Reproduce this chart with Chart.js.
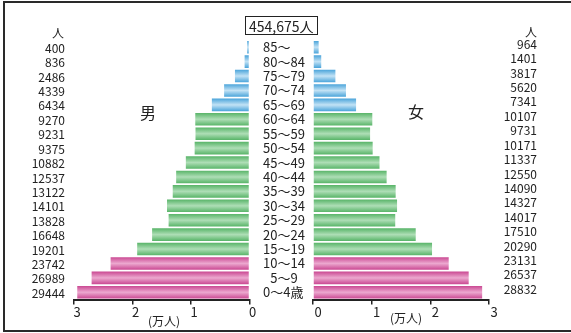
<!DOCTYPE html>
<html lang="ja">
<head>
<meta charset="utf-8">
<title>人口ピラミッド</title>
<script src="https://cdn.jsdelivr.net/npm/chart.js@4.4.1/dist/chart.umd.min.js"></script>
<style>
    html, body { margin: 0; padding: 0; background: #fff; }
    #wrap {
        position: relative; width: 571px; height: 333px; overflow: hidden;
        background: #fff; color: #222;
        font-family: "Noto Sans CJK JP", "Noto Sans", sans-serif;
    }
    #frame {
        position: absolute; left: 3px; top: 1px; width: 600px; height: 327px;
        border: 2px solid #2a2a2a; border-right: none;
    }
    canvas { position: absolute; top: 0; }
    #maleChart { left: 0; }
    #femaleChart { left: 300px; }
    .txt { position: absolute; white-space: nowrap; line-height: 1; }
    .age { font-size: 13px; left: 263px; }
    #total {
        left: 245px; top: 16px; font-size: 14px;
        border: 1px solid #222; padding: 2px 3px 1px 3px;
    }
</style>
</head>
<body>
<div id="wrap">
    <div id="frame"></div>
    <canvas id="maleChart" width="262" height="333"></canvas>
    <canvas id="femaleChart" width="271" height="333"></canvas>
    <div class="txt" id="total"></div>
    <div class="txt" style="left:52px; top:27px; font-size:12px;">人</div>
    <div class="txt" style="left:525px; top:26px; font-size:12px;">人</div>
    <div class="txt" style="left:140px; top:104px; font-size:16px;">男</div>
    <div class="txt" style="left:408px; top:103px; font-size:16px;">女</div>
    <div class="txt" style="left:148px; top:315px; font-size:12px;">(万人)</div>
    <div class="txt" style="left:390px; top:312px; font-size:12px;">(万人)</div>
</div>
<script>
// 年齢階級別人口（人）
const ageGroups = ['85～', '80～84', '75～79', '70～74', '65～69', '60～64', '55～59', '50～54', '45～49',
                   '40～44', '35～39', '30～34', '25～29', '20～24', '15～19', '10～14', '\u20075～9', '0～4歳'];
const maleCounts = [400, 836, 2486, 4339, 6434, 9270, 9231, 9375, 10882,
                    12537, 13122, 14101, 13828, 16648, 19201, 23742, 26989, 29444];
const femaleCounts = [964, 1401, 3817, 5620, 7341, 10107, 9731, 10171, 11337,
                      12550, 14090, 14327, 14017, 17510, 20290, 23131, 26537, 28832];
const totalLabel = '454,675人';
const axisMax = 3; // 万人

const fontFamily = '"Noto Sans CJK JP", "Noto Sans", sans-serif';

// 65歳以上・15～64歳・0～14歳で色分け [縁, 中心]
const palette = {
    old:   ['#4aa4da', '#c2e2f5'],
    work:  ['#58b468', '#aedeb6'],
    young: ['#ca4892', '#eca8cf']
};

function bandOf(i) {
    return i < 5 ? 'old' : (i < 15 ? 'work' : 'young');
}

// 棒ごとに上下が濃く中央が明るいグラデーション
function barFill(ctx) {
    const i = ctx.dataIndex;
    if (i === undefined) return palette.work[0];
    const [edge, mid] = palette[bandOf(i)];
    const chart = ctx.chart;
    const y = chart.scales.y;
    if (!chart.chartArea || !y) return edge;
    const c = y.getPixelForValue(i);
    const g = chart.ctx.createLinearGradient(0, c - 6.3, 0, c + 6.3);
    g.addColorStop(0, edge);
    g.addColorStop(0.5, mid);
    g.addColorStop(1, edge);
    return g;
}

function makeSide(canvasId, counts, isLeft) {
    return new Chart(document.getElementById(canvasId), {
        type: 'bar',
        data: {
            labels: ageGroups,
            datasets: [{
                data: counts.map(v => v / 10000),
                backgroundColor: barFill,
                borderWidth: 0,
                barPercentage: 1,
                categoryPercentage: 0.87
            }]
        },
        options: {
            indexAxis: 'y',
            responsive: false,
            animation: false,
            layout: {
                padding: isLeft
                    ? { top: 40, right: 12.5, bottom: 0, left: 0 }
                    : { top: 40, right: 34, bottom: 0, left: 13 }
            },
            plugins: {
                legend: { display: false },
                tooltip: { enabled: false }
            },
            scales: {
                x: {
                    reverse: isLeft,
                    min: 0,
                    max: axisMax,
                    afterFit: s => { s.height = 33.5; },
                    grid: { drawOnChartArea: false, drawTicks: true, tickLength: 5, color: '#222', lineWidth: 1.5 },
                    border: { display: true, color: '#222', width: 2 },
                    ticks: {
                        stepSize: 1,
                        color: '#222',
                        font: { family: fontFamily, size: 13 },
                        padding: 0,
                        labelOffset: isLeft ? 3 : 5,
                        maxRotation: 0,
                        autoSkip: false
                    }
                },
                y: {
                    position: isLeft ? 'left' : 'right',
                    afterFit: s => { s.width = isLeft ? 74 : 48; },
                    grid: { display: false, drawTicks: false },
                    border: { display: false },
                    ticks: {
                        color: '#222',
                        font: { family: fontFamily, size: 12 },
                        padding: isLeft ? 9 : 0,
                        crossAlign: isLeft ? 'near' : 'far',
                        labelOffset: isLeft ? 1 : -3,
                        autoSkip: false,
                        callback: (v, i) => String(counts[i])
                    }
                }
            }
        }
    });
}

const maleChart = makeSide('maleChart', maleCounts, true);
const femaleChart = makeSide('femaleChart', femaleCounts, false);

document.getElementById('total').textContent = totalLabel;

// 中央の年齢階級ラベル
const wrap = document.getElementById('wrap');
ageGroups.forEach((label, i) => {
    const d = document.createElement('div');
    d.className = 'txt age';
    d.textContent = label;
    d.style.top = (maleChart.scales.y.getPixelForValue(i) - 7) + 'px';
    wrap.appendChild(d);
});
</script>
</body>
</html>
